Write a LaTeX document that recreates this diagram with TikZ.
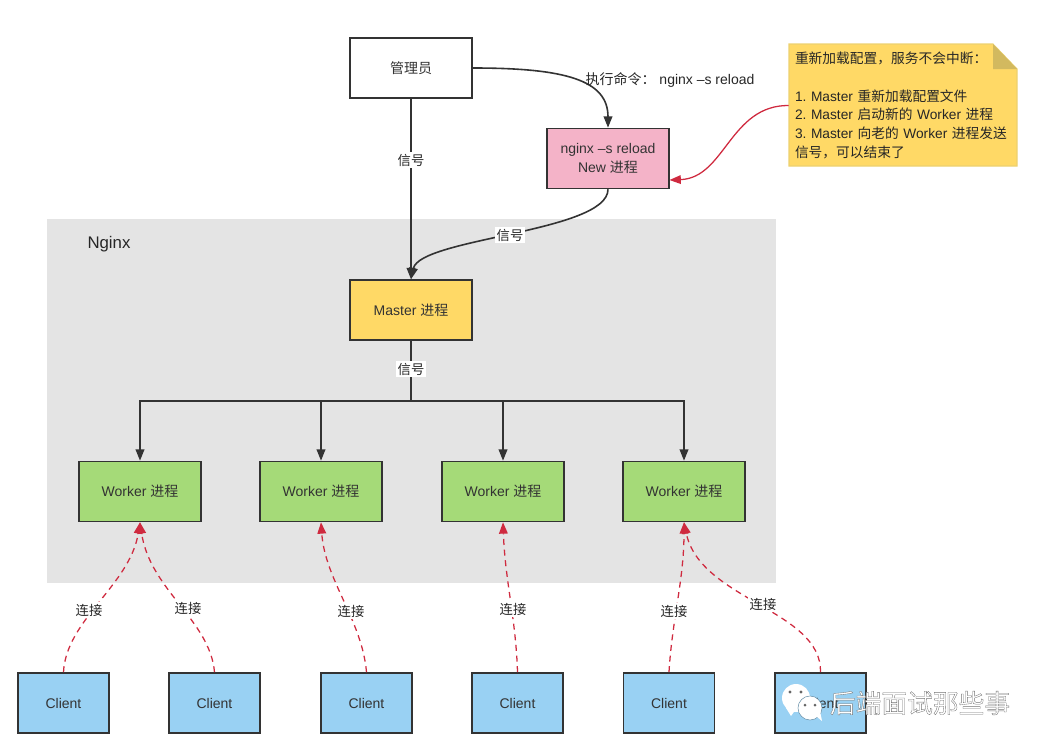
\documentclass[tikz,border=0pt]{standalone}
\usepackage{fontspec}
\setmainfont{Liberation Sans}
\newfontfamily\cjk{Noto Sans CJK SC}
\usetikzlibrary{arrows.meta,calc}

\definecolor{panelgray}{HTML}{E4E4E4}
\definecolor{boxline}{HTML}{333333}
\definecolor{linkred}{HTML}{CF2A3F}
\definecolor{pinkfill}{HTML}{F4B3C8}
\definecolor{yellowfill}{HTML}{FFD966}
\definecolor{greenfill}{HTML}{A5DA78}
\definecolor{bluefill}{HTML}{99D1F3}
\definecolor{foldfill}{HTML}{D2B95F}
\definecolor{noteline}{HTML}{ECD170}

\begin{document}
\frenchspacing
\begin{tikzpicture}[x=0.75pt,y=-0.75pt]
  \tikzset{
    procbox/.style={draw=boxline,line width=1.2pt,minimum width=90.75pt,minimum height=45pt,
      inner sep=0pt,align=center,text=black!80,font=\fontsize{10.5}{14.1}\selectfont},
    clientbox/.style={procbox,fill=bluefill,minimum width=68.25pt},
    workerbox/.style={procbox,fill=greenfill,minimum width=91.5pt},
    sig/.style={-{Triangle[length=8.5pt,width=6.5pt]},line width=1.2pt,boxline},
    conn/.style={-{Triangle[length=8.5pt,width=6.5pt]},line width=0.95pt,linkred,dash pattern=on 4.5pt off 3.5pt},
    edgetext/.style={fill=white,inner sep=1.2pt,text=black!85,font=\cjk\fontsize{10}{11}\selectfont}
  }
  \useasboundingbox (0,0) rectangle (1043,750);

  % Nginx panel
  \fill[panelgray] (47,219) rectangle (776,583);
  \node[font=\fontsize{12.6}{14}\selectfont,text=black!85] (nginx) at (109,244) {Nginx};

  % Admin and reload process
  \node[procbox,fill=white,minimum width=91.5pt] (admin) at (411,68) {{\cjk 管理员}};
  \node[procbox,fill=pinkfill,minimum width=91.5pt] (reload) at (608,158.5) {nginx –s reload\\New {\cjk 进程}};
  \node[procbox,fill=yellowfill,minimum width=91.5pt] (master) at (411,310) {Master {\cjk 进程}};

  % Workers
  \node[workerbox] (w1) at (140,491.5) {Worker {\cjk 进程}};
  \node[workerbox] (w2) at (321,491.5) {Worker {\cjk 进程}};
  \node[workerbox] (w3) at (503,491.5) {Worker {\cjk 进程}};
  \node[workerbox] (w4) at (684,491.5) {Worker {\cjk 进程}};

  % Clients
  \node[clientbox] (c1) at (63.5,703) {Client};
  \node[clientbox] (c2) at (214.5,703) {Client};
  \node[clientbox] (c3) at (366.5,703) {Client};
  \node[clientbox] (c4) at (517.5,703) {Client};
  \node[clientbox] (c5) at (669,703) {Client};
  \node[clientbox] (c6) at (820.5,703) {Client};

  % Note
  \fill[yellowfill,draw=noteline,line width=0.8pt] (789,44) -- (993,44) -- (1017,69) -- (1017,166) -- (789,166) -- cycle;
  \fill[foldfill] (993,44) -- (993,69) -- (1017,69) -- cycle;
  \node[minimum width=171pt,minimum height=91.5pt,inner xsep=4.5pt,inner ysep=0pt,text width=162pt,
    align=left,text=black!85,font=\fontsize{10.3}{14.1}\selectfont] (note) at (903,105.5)
    {{\cjk 重新加载配置，服务不会中断：}\\
     \mbox{}\\
     1. Master {\cjk 重新加载配置文件}\\
     2. Master {\cjk 启动新的} Worker {\cjk 进程}\\
     3. Master {\cjk 向老的} Worker {\cjk 进程发送}\\
     {\cjk 信号，可以结束了}};
  \coordinate (reloadin) at (669.5,180);
  \draw[-{Triangle[length=8.5pt,width=6.5pt]},line width=0.95pt,linkred]
    (note.west) .. controls (730,105) and (725,178) .. (reloadin);

  % Signals
  \draw[sig] (admin.east) .. controls (565,68) and (608,80) .. (reload.north);
  \node[font=\fontsize{10.5}{12}\selectfont,text=black!85] (cmd) at (670,80) {{\cjk 执行命令：} nginx –s reload};
  \draw[sig] (admin.south) -- (master.north);
  \node[edgetext] (sig1) at (411,160) {信号};
  \draw[sig] (reload.south) .. controls (608,232) and (420,238) .. (master.north);
  \node[edgetext] (sig2) at (510,235) {信号};

  \coordinate (bus) at (411,401);
  \draw[line width=1.2pt,boxline] (master.south) -- (bus);
  \foreach \w in {w1,w2,w3,w4}
    \draw[sig] (bus) -| (\w.north);
  \node[edgetext] (sig3) at (411,369) {信号};

  % Connections
  \draw[conn] (c1.north) .. controls (66,620) and (130,585) .. (w1.south);
  \draw[conn] (c2.north) .. controls (210,620) and (150,590) .. (w1.south);
  \draw[conn] (c3.north) .. controls (362,620) and (325,580) .. (w2.south);
  \draw[conn] (c4.north) .. controls (516,620) and (505,580) .. (w3.south);
  \draw[conn] (c5.north) .. controls (672,620) and (684,580) .. (w4.south);
  \draw[conn] (c6.north) .. controls (822,610) and (700,600) .. (w4.south);
  \node[edgetext] (link1) at (89,610) {连接};
  \node[edgetext] (link2) at (188,608) {连接};
  \node[edgetext] (link3) at (351,611) {连接};
  \node[edgetext] (link4) at (513,609) {连接};
  \node[edgetext] (link5) at (674,611) {连接};
  \node[edgetext] (link6) at (763,604) {连接};

  % Watermark
  \fill[white] (796,698) circle (14);
  \fill[white] (786,708) -- (791,716) -- (796,709) -- cycle;
  \fill[white,draw=bluefill!70!black,line width=0.4pt] (810,708) circle (12);
  \fill[white] (816,716) -- (822,721) -- (820,711) -- cycle;
  \fill[black!60] (790,692) circle (1.6) (801,692) circle (1.6) (805,705) circle (1.5) (815,705) circle (1.5);
  \node[text=white,font=\cjk\fontsize{19.3}{22}\selectfont] (mark) at (920,703)
    {\special{pdf:code 0.45 G 0.25 w 2 Tr}后端面试那些事\special{pdf:code 0 Tr}};
\end{tikzpicture}
\end{document}
